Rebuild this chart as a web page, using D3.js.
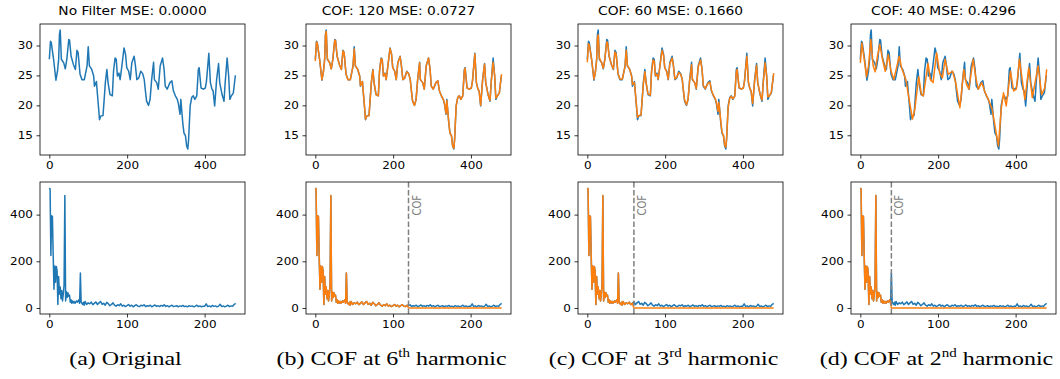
<!DOCTYPE html>
<html><head><meta charset="utf-8">
<script src="https://cdn.jsdelivr.net/npm/d3@7"></script>
<style>body{margin:0;background:#fff}svg{display:block}</style>
</head><body><svg id="c" width="1060" height="379"></svg>
<script>
// ---------- DATA ----------
const titles = ["No Filter MSE: 0.0000","COF: 120 MSE: 0.0727","COF: 60 MSE: 0.1660","COF: 40 MSE: 0.4296"];
const cofs = [null,120,60,40];
const captionMain = ["(a) Original","(b) COF at 6","(c) COF at 3","(d) COF at 2"];
const captionSup = ["","th","rd","nd"];
const captionTail = [""," harmonic"," harmonic"," harmonic"];
const timeTicks = [0,200,400];
const valueTicks = [15,20,25,30];
const freqTicks = [0,100,200];
const ampTicks = [0,200,400];

const tsX = [0,3,5,11,17,21,24,26,28,31,37,41,45,50,52,56,62,67,71,74,79,84,90,97,100,103,109,114,116,121,124,127,129,132,138,141,144,148,151,156,162,165,169,172,175,179,182,186,192,196,199,204,208,212,218,221,225,230,235,240,244,247,250,255,259,263,268,270,276,280,285,291,295,298,303,310,315,319,324,329,332,336,338,343,346,350,353,356,358,362,366,370,374,379,383,385,390,396,401,404,410,414,418,421,425,430,435,438,444,449,452,457,461,464,468,473,478,479];
const tsOriginal = [27.7,30.7,30.5,27.7,24.2,25.7,27.7,31.8,32.6,27.7,27.1,26.1,27.7,31,30.9,28.2,26.8,26,29.2,28.8,25.2,24.3,24.3,26.6,29.8,26.6,26,24.9,23.2,24,21.6,19.3,17.6,18.2,18.3,21,23.8,26,23.8,21.8,21.6,25.7,27.9,27.7,24.9,25.4,24.3,26.3,29.6,28.5,26.3,25.7,24.3,27.1,28.2,26.8,24.3,24.6,25.7,25.3,24.3,22.4,20.7,20,21,24.3,27.2,24.3,23.8,22.7,26.6,27.9,26,23.2,22.7,23.8,24.1,22.4,21.6,21,20.2,18.5,21,17.1,15.4,14.9,13.2,12.7,14.3,19.9,21.3,21.6,21,21.6,26,26.3,22.9,22.7,22.9,24.1,28.7,23.8,22.7,22.4,19.9,24.3,27,23.8,21.8,20.7,23.8,27.9,24.9,21,21.6,22.1,24.9,25];
const ts120 = [27.4,30.6,30.4,27.7,24.3,25.7,27.7,31.6,32.4,27.8,27.1,26.1,27.7,30.9,30.8,28.2,26.8,26,29.1,28.8,25.2,24.3,24.3,26.6,29.4,26.6,26,24.9,23.3,24,21.7,19.4,17.7,18.2,18.3,21,23.8,25.9,23.8,21.8,21.6,25.7,27.8,27.6,24.9,25.3,24.3,26.3,29.5,28.5,26.3,25.7,24.3,27.1,28.1,26.8,24.3,24.6,25.6,25.3,24.3,22.4,20.7,20,21,24.3,27.1,24.3,23.8,22.7,26.6,27.9,26,23.2,22.7,23.8,24.1,22.4,21.6,21,20.3,18.6,20.8,17.2,15.4,14.9,13.2,12.8,14.3,19.9,21.3,21.6,21,21.6,25.8,26.2,22.9,22.7,22.9,24.1,28.6,23.8,22.7,22.4,20,24.3,26.9,23.8,21.8,20.8,23.8,27.2,24.9,21.2,21.6,22.1,24.9,25.2];
const ts60 = [27.2,30.3,30.1,27.7,24.4,25.7,27.6,31.2,31.8,27.9,27.1,26.2,27.6,30.6,30.5,28.2,26.8,26.1,28.9,28.6,25.3,24.4,24.4,26.5,29.2,26.7,26,24.8,23.5,23.8,21.8,19.5,18,18.3,18.4,20.9,23.6,25.6,23.8,21.9,21.7,25.4,27.6,27.4,25,25.2,24.4,26.2,29.2,28.3,26.3,25.6,24.4,26.9,27.9,26.8,24.4,24.7,25.5,25.2,24.3,22.5,20.9,20.1,21.1,24.1,26.8,24.4,23.8,22.8,26.4,27.6,25.9,23.4,22.8,23.7,23.9,22.5,21.7,21.1,20.4,19,20.5,17.4,15.6,14.9,13.4,13,14.6,19.6,21.2,21.5,21.1,21.5,25.6,26,23,22.7,22.9,24,28.2,23.9,22.8,22.4,20.3,24.1,26.7,23.8,21.9,20.9,23.6,27.1,24.8,21.4,21.6,22.2,24.8,25.4];
const ts40X = [0,4,9,16,21,27,33,38,44,50,57,64,72,78,86,100,106,117,134,140,150,157,162,174,180,187,196,204,211,218,226,237,245,256,266,273,279,290,297,303,312,321,329,339,355,362,368,375,386,394,401,409,423,433,442,457,466,474,479];
const ts40 = [27.1,30.4,28.2,24.8,26.6,31,26.6,25.6,28.2,30.2,27.7,25.7,28.5,26,24.3,28.2,26.3,24.3,17.7,19.3,24.8,21.8,21.6,27,24.3,23.8,28.8,25.4,24.6,27.7,25.2,25.7,23.8,19.6,26,23.5,22.7,27.7,24.6,22.7,23.8,22.1,21,19.3,13.2,19.3,22.1,19.9,25.7,22.4,22.7,27.7,21,26.3,21.3,26.6,21.8,22.9,26];

const freqX = [0,1,2,3,4,5,6,7,8,9,10,11,12,13,14,15,16,17,18,19,20,21,22,23,24,25,26,27,28,29,30,31,32,33,34,35,36,37,38,39,40,41,42,43,44,45,46,48,50,52,54,56,58,60,62,64,66,68,70,72,74,76,78,80,82,84,86,88,90,92,94,96,98,100,102,104,106,108,110,112,114,116,118,120,122,124,126,128,130,132,134,136,138,140,142,144,146,148,150,152,154,156,158,160,162,164,166,168,170,172,174,176,178,180,182,184,186,188,190,192,194,196,198,200,202,204,206,208,210,212,214,216,218,220,222,224,226,228,230,232,234,236,238,240];
const freqAmp = [514,510,225,395,392,225,80,180,110,178,160,15,135,60,90,40,75,30,60,100,482,30,70,45,65,50,55,25,35,20,30,22,28,20,25,30,25,30,35,20,150,25,20,15,25,12,28,15,22,18,25,14,20,26,15,22,28,16,20,12,24,18,10,15,22,12,8,14,10,18,8,12,6,10,15,8,12,5,10,14,8,6,12,9,14,6,10,8,12,5,9,13,7,10,6,11,8,14,7,10,5,9,12,6,8,10,5,9,7,11,6,8,5,10,7,9,5,8,12,6,9,5,8,7,18,6,9,5,11,7,9,5,8,16,6,9,5,8,12,6,9,7,15,20];

// ---------- LAYOUT ----------
const frameLeft = [40,306,578,851];
const frameW = 205;
const topY0 = 24, topY1 = 155, botY0 = 182, botY1 = 314;
const BLUE = "#1f77b4", ORANGE = "#ff7f0e";
const TICK_SX = 1.2, TITLE_SX = 1.15, CAP_SX = 1.2, CAP_SY = 0.95;

const svg = d3.select("#c");
const pad = (lo,hi)=>{const m=(hi-lo)*0.05;return [lo-m,hi+m];};

function stretch(sel,sx,sy){
  sy = sy||1;
  sel.each(function(){
    const t=d3.select(this);
    const x=+(t.attr("x")||0), y=+(t.attr("y")||0);
    t.attr("x",null).attr("y",null).attr("transform",`translate(${x},${y}) scale(${sx},${sy})`);
  });
}

const topSeries = [null,[tsX,ts120],[tsX,ts60],[ts40X,ts40]];

function axes(g,x,y,xt,yt,y0,y1,x0){
  const ax = g.append("g");
  ax.append("g").attr("transform",`translate(0,${y1})`)
   .call(d3.axisBottom(x).tickValues(xt).tickSize(3.5).tickPadding(3.5).tickFormat(d3.format("d")));
  ax.append("g").attr("transform",`translate(${x0},0)`)
   .call(d3.axisLeft(y).tickValues(yt).tickSize(3.5).tickPadding(3.5).tickFormat(d3.format("d")));
  ax.selectAll(".domain").remove();
  ax.selectAll(".tick line").attr("stroke","#000").attr("stroke-width",0.8);
  const tt = ax.selectAll(".tick text").attr("font-family","DejaVu Sans").attr("font-size",10).attr("fill","#000");
  stretch(tt,TICK_SX);
  ax.append("rect").attr("x",x0).attr("y",y0).attr("width",frameW).attr("height",y1-y0)
   .attr("fill","none").attr("stroke","#000").attr("stroke-width",0.8);
}

for(let i=0;i<4;i++){
  const L = frameLeft[i], R = L+frameW;
  const g = svg.append("g");
  // top panel
  const xT = d3.scaleLinear().domain(pad(0,479)).range([L,R]);
  let allY = tsOriginal.slice(); if(topSeries[i]) allY = allY.concat(topSeries[i][1]);
  const yT = d3.scaleLinear().domain(pad(d3.min(allY),d3.max(allY))).range([topY1,topY0]);
  const lineT = (xs)=>d3.line().x((d,k)=>xT(xs[k])).y(d=>yT(d));
  g.append("path").attr("d",lineT(tsX)(tsOriginal)).attr("fill","none").attr("stroke",BLUE).attr("stroke-width",1.5).attr("stroke-linejoin","round");
  if(topSeries[i]){
    const [xs,ys]=topSeries[i];
    g.append("path").attr("d",lineT(xs)(ys)).attr("fill","none").attr("stroke",ORANGE).attr("stroke-width",1.5).attr("stroke-linejoin","round");
  }
  axes(g,xT,yT,timeTicks,valueTicks,topY0,topY1,L);
  const ti = g.append("text").attr("x",(L+R)/2-10).attr("y",15).attr("text-anchor","middle")
   .attr("font-family","DejaVu Sans").attr("font-size",12).attr("fill","#000").text(titles[i]);
  stretch(ti,TITLE_SX);

  // bottom panel
  const xB = d3.scaleLinear().domain(pad(0,240)).range([L,R]);
  const yB = d3.scaleLinear().domain(pad(0,d3.max(freqAmp))).range([botY1,botY0]);
  const lineB = d3.line().x((d,k)=>xB(freqX[k])).y(d=>yB(d));
  g.append("path").attr("d",lineB(freqAmp)).attr("fill","none").attr("stroke",BLUE).attr("stroke-width",1.5).attr("stroke-linejoin","round");
  if(cofs[i]!==null){
    const filt = freqAmp.map((v,k)=>freqX[k]<cofs[i]?v:0);
    g.append("path").attr("d",lineB(filt)).attr("fill","none").attr("stroke",ORANGE).attr("stroke-width",1.5).attr("stroke-linejoin","round");
    const cx = xB(cofs[i]);
    g.append("line").attr("x1",cx).attr("x2",cx).attr("y1",botY0).attr("y2",botY1)
     .attr("stroke","#808080").attr("stroke-width",1.5).attr("stroke-dasharray","5.5,2.4");
    g.append("text").attr("transform",`translate(${cx+12},${botY0+13}) rotate(-90) scale(1,1.2)`)
     .attr("text-anchor","end").attr("font-family","DejaVu Sans").attr("font-size",10).attr("fill","#808080").text("COF");
  }
  axes(g,xB,yB,freqTicks,ampTicks,botY0,botY1,L);

  // caption
  const t = g.append("text").attr("x",(L+R)/2-17).attr("y",365).attr("text-anchor","middle")
   .attr("font-family","Liberation Serif").attr("font-size",20).attr("fill","#000");
  t.append("tspan").text(captionMain[i]);
  if(captionSup[i]){
    t.append("tspan").attr("font-size",12.5).attr("dy",-8).text(captionSup[i]);
    t.append("tspan").attr("dy",8).text(captionTail[i]);
  }
  stretch(t,CAP_SX,CAP_SY);
}
</script></body></html>
